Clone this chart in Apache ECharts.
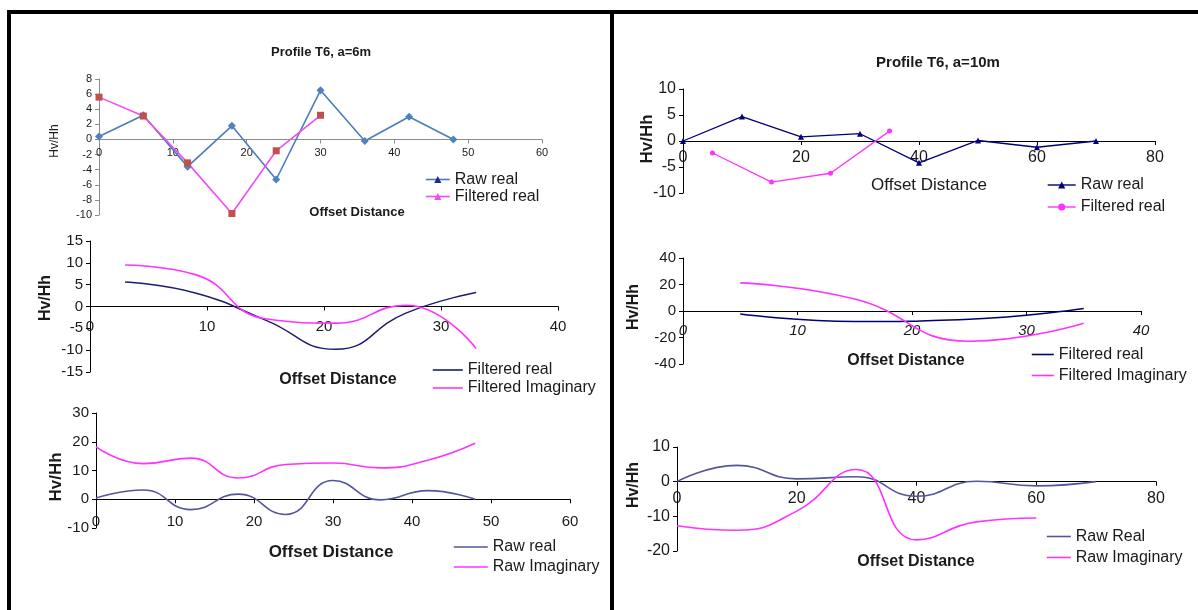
<!DOCTYPE html>
<html>
<head>
<meta charset="utf-8">
<script src="https://cdn.jsdelivr.net/npm/echarts@6/dist/echarts.min.js"></script>
<style>
  html, body { margin: 0; padding: 0; background: #fff; }
  #c { width: 1198px; height: 610px; }
</style>
</head>
<body>
<div id="c"></div>
<script>
// ---- Profile T6, a = 6 m ----
const a6Stations      = [0, 6, 12, 18, 24, 30, 36, 42, 48];
const a6RawReal       = [0.4, 3.2, -3.6, 1.8, -5.3, 6.5, -0.2, 3.0, 0.0];
const a6RawImag       = [18.2, 12.4, 14.3, 7.4, 12.1, 12.6, 10.9, 13.6, 19.5];
const a6FiltStations  = [0, 6, 12, 18, 24, 30];
const a6FiltMidpoints = [3, 9, 15, 21, 27, 33];
const a6FiltReal      = [5.6, 3.1, -3.1, -9.8, -1.5, 3.2];
const a6FiltImag      = [9.5, 7.3, -2.8, -3.8, 0.3, -9.6];

// ---- Profile T6, a = 10 m ----
const a10Stations     = [0, 10, 20, 30, 40, 50, 60, 70];
const a10RawReal      = [0, 4.7, 0.8, 1.4, -4.2, 0.1, -1.2, 0.0];
const a10ImagStations = [0, 10, 20, 30, 40, 50, 60];
const a10RawImag      = [-12.7, -14.0, -8.5, 3.5, -16.8, -11.6, -10.5];
const a10FiltStations = [5, 15, 25, 35];
const a10FiltReal     = [-2.3, -7.9, -6.2, 1.9];
const a10FiltImag     = [21.2, 9.0, -22.8, -9.3];

// ---- text ----
const titles   = ['Profile T6, a=6m', 'Profile T6, a=10m'];
const yName    = 'Hv/Hh';
const xName    = 'Offset Distance';

const SANS   = '"Liberation Sans", Arial, sans-serif';
const NARROW = '"Liberation Sans Narrow", "Liberation Sans", Arial, sans-serif';

const pairs = (xs, ys) => xs.map((x, i) => [x, ys[i]]);

// series names carry a panel suffix so each legend finds its own series
const label = name => name.split('#')[0];

const grids = [
  { left: 99,  top: 79,  width: 443, height: 136 },
  { left: 90,  top: 241, width: 468, height: 131 },
  { left: 96,  top: 413, width: 474, height: 115 },
  { left: 683, top: 89,  width: 472, height: 104 },
  { left: 683, top: 258, width: 458, height: 106 },
  { left: 677, top: 447, width: 479, height: 104 }
];

const xRanges = [[0, 60, 10], [0, 40, 10], [0, 60, 10], [0, 80, 20], [0, 40, 10], [0, 80, 20]];
const yRanges = [[-10, 8, 2], [-15, 15, 5], [-10, 30, 10], [-10, 10, 5], [-40, 40, 20], [-20, 10, 10]];

// x tick labels sit just under the zero line; margin is counted from the plot bottom
const axisStyle = [
  { color: '#8c8c8c', fs: 11, ff: SANS,   xMargin: -68, italic: false },
  { color: '#000',    fs: 15, ff: NARROW, xMargin: -53, italic: false },
  { color: '#000',    fs: 15, ff: NARROW, xMargin: -14, italic: false },
  { color: '#000',    fs: 16, ff: SANS,   xMargin: -43, italic: false },
  { color: '#000',    fs: 15, ff: SANS,   xMargin: -41, italic: true  },
  { color: '#000',    fs: 16, ff: SANS,   xMargin: -60, italic: false }
];

const xAxes = xRanges.map((r, i) => ({
  type: 'value', gridIndex: i, min: r[0], max: r[1], interval: r[2],
  axisLine: { onZero: true, lineStyle: { color: axisStyle[i].color, width: 1 } },
  axisTick: { show: true, length: 4, lineStyle: { color: axisStyle[i].color } },
  axisLabel: {
    margin: axisStyle[i].xMargin, fontSize: axisStyle[i].fs, fontFamily: axisStyle[i].ff,
    fontStyle: axisStyle[i].italic ? 'italic' : 'normal', color: '#1a1a1a'
  },
  splitLine: { show: false }
}));

const yAxes = yRanges.map((r, i) => ({
  type: 'value', gridIndex: i, min: r[0], max: r[1], interval: r[2],
  axisLine: { show: true, onZero: false, lineStyle: { color: axisStyle[i].color, width: 1 } },
  axisTick: { show: true, length: 4, lineStyle: { color: axisStyle[i].color } },
  axisLabel: {
    margin: 7, fontSize: i === 0 ? 11 : axisStyle[i].fs,
    fontFamily: axisStyle[i].ff, color: '#1a1a1a'
  },
  splitLine: { show: false }
}));

function line(name, idx, xs, ys, color, width, opts) {
  return Object.assign({
    type: 'line', name, xAxisIndex: idx, yAxisIndex: idx,
    data: pairs(xs, ys),
    symbol: 'none', smooth: true,
    lineStyle: { color, width },
    itemStyle: { color, borderWidth: 0 },
    emphasis: { disabled: true },
    z: 3
  }, opts || {});
}

const BLUE = '#4a7ebb', NAVY = '#1c1c6e', NAVY2 = '#000078', PURPLE = '#55559f',
      MAG = '#f24cf2', MAG2 = '#ff33ff', RED = '#c0504d';

const series = [
  // top-left: raw points as diamonds, filtered as squares
  line('Raw real#1', 0, a6Stations, a6RawReal, BLUE, 1.6, {
    smooth: false, symbol: 'triangle', symbolSize: 8,
    data: pairs(a6Stations, a6RawReal).map(v => ({ value: v, symbol: 'diamond', symbolSize: 8 })),
    itemStyle: { color: '#4f81bd', borderWidth: 0 }
  }),
  line('Filtered real#1', 0, a6FiltStations, a6FiltReal, MAG, 1.6, {
    smooth: false, symbol: 'triangle', symbolSize: 7,
    data: pairs(a6FiltStations, a6FiltReal).map(v => ({ value: v, symbol: 'rect', symbolSize: 7 })),
    itemStyle: { color: RED, borderWidth: 0 }
  }),
  // middle-left
  line('Filtered real#2', 1, a6FiltMidpoints, a6FiltReal, NAVY, 1.4),
  line('Filtered Imaginary#2', 1, a6FiltMidpoints, a6FiltImag, MAG2, 1.6),
  // bottom-left
  line('Raw real#3', 2, a6Stations, a6RawReal, PURPLE, 1.6),
  line('Raw Imaginary#3', 2, a6Stations, a6RawImag, MAG2, 1.6),
  // top-right
  line('Raw real#4', 3, a10Stations, a10RawReal, NAVY2, 1.3, {
    smooth: false, symbol: 'triangle', symbolSize: 6
  }),
  line('Filtered real#4', 3, a10FiltStations, a10FiltReal, MAG2, 1.3, {
    smooth: false, symbol: 'circle', symbolSize: 5
  }),
  // middle-right
  line('Filtered real#5', 4, a10FiltStations, a10FiltReal, NAVY2, 1.4),
  line('Filtered Imaginary#5', 4, a10FiltStations, a10FiltImag, MAG2, 1.6),
  // bottom-right
  line('Raw Real#6', 5, a10Stations, a10RawReal, PURPLE, 1.6),
  line('Raw Imaginary#6', 5, a10ImagStations, a10RawImag, MAG2, 1.6)
];

// legend boxes: position, icon length, row pitch
const legendBoxes = [
  { left: 425,  top: 171, w: 24, pitch: 17, names: ['Raw real#1', 'Filtered real#1'] },
  { left: 432,  top: 361, w: 30, pitch: 18, names: ['Filtered real#2', 'Filtered Imaginary#2'] },
  { left: 453,  top: 537, w: 34, pitch: 20, names: ['Raw real#3', 'Raw Imaginary#3'] },
  { left: 1047, top: 174, w: 28, pitch: 22, names: ['Raw real#4', 'Filtered real#4'] },
  { left: 1031, top: 344, w: 22, pitch: 21, names: ['Filtered real#5', 'Filtered Imaginary#5'] },
  { left: 1046, top: 526, w: 24, pitch: 21, names: ['Raw Real#6', 'Raw Imaginary#6'] }
];

const legendItem = (name, i) => {
  if (i === 0) {
    const head = name.startsWith('Raw') ? '#1f2a80' : MAG;
    const tail = name.startsWith('Raw') ? BLUE : MAG;
    return { name, itemStyle: { color: head, borderWidth: 0 }, lineStyle: { color: tail, width: 1.6 } };
  }
  if (i === 3) return { name, itemStyle: { borderWidth: 0 }, lineStyle: { width: 1.4 } };
  return { name, itemStyle: { opacity: 0 }, lineStyle: { width: 1.6 } };
};

const legends = legendBoxes.map((b, i) => ({
  orient: 'vertical', left: b.left, top: b.top,
  itemWidth: b.w, itemHeight: 9, itemGap: 0, padding: 0,
  selectedMode: false, formatter: label,
  textStyle: { fontSize: 16, fontFamily: NARROW, color: '#1a1a1a', lineHeight: b.pitch, padding: [0, 0, 0, 0] },
  data: b.names.map(n => legendItem(n, i))
}));

// free-standing text: titles and axis captions
const text = (x, y, str, size, weight, rot, family) => ({
  type: 'text', x, y, rotation: rot || 0, z: 10,
  style: {
    text: str, fontSize: size, fontWeight: weight, fontFamily: family || SANS,
    fill: '#1a1a1a', align: 'center', verticalAlign: 'middle'
  }
});
const R = Math.PI / 2;

const graphics = [
  // frame rules
  { type: 'rect', shape: { x: 7, y: 10, width: 1191, height: 4 }, style: { fill: '#000' } },
  { type: 'rect', shape: { x: 7, y: 10, width: 4, height: 600 }, style: { fill: '#000' } },
  { type: 'rect', shape: { x: 610, y: 10, width: 4, height: 600 }, style: { fill: '#000' } },
  text(321, 52, titles[0], 13, 'bold'),
  text(938, 63, titles[1], 15, 'bold'),
  // y captions
  text(55, 141, yName, 12, 'normal', R),
  text(46, 298, yName, 16, 'bold', R),
  text(56, 477, yName, 17, 'bold', R),
  text(647, 139, yName, 17, 'bold', R),
  text(634, 307, yName, 16, 'bold', R),
  text(634, 485, yName, 16, 'bold', R),
  // x captions
  text(357, 212, xName, 13, 'bold'),
  text(338, 380, xName, 16, 'bold', 0, NARROW),
  text(331, 552, xName, 17, 'bold', 0, NARROW),
  text(929, 185, xName, 17, 'normal'),
  text(906, 361, xName, 16, 'bold', 0, NARROW),
  text(916, 562, xName, 16, 'bold', 0, NARROW)
];

const chart = echarts.init(document.getElementById('c'), null, { renderer: 'canvas' });
chart.setOption({
  animation: false,
  backgroundColor: '#fff',
  grid: grids,
  xAxis: xAxes,
  yAxis: yAxes,
  legend: legends,
  series,
  graphic: graphics
});
</script>
</body>
</html>
